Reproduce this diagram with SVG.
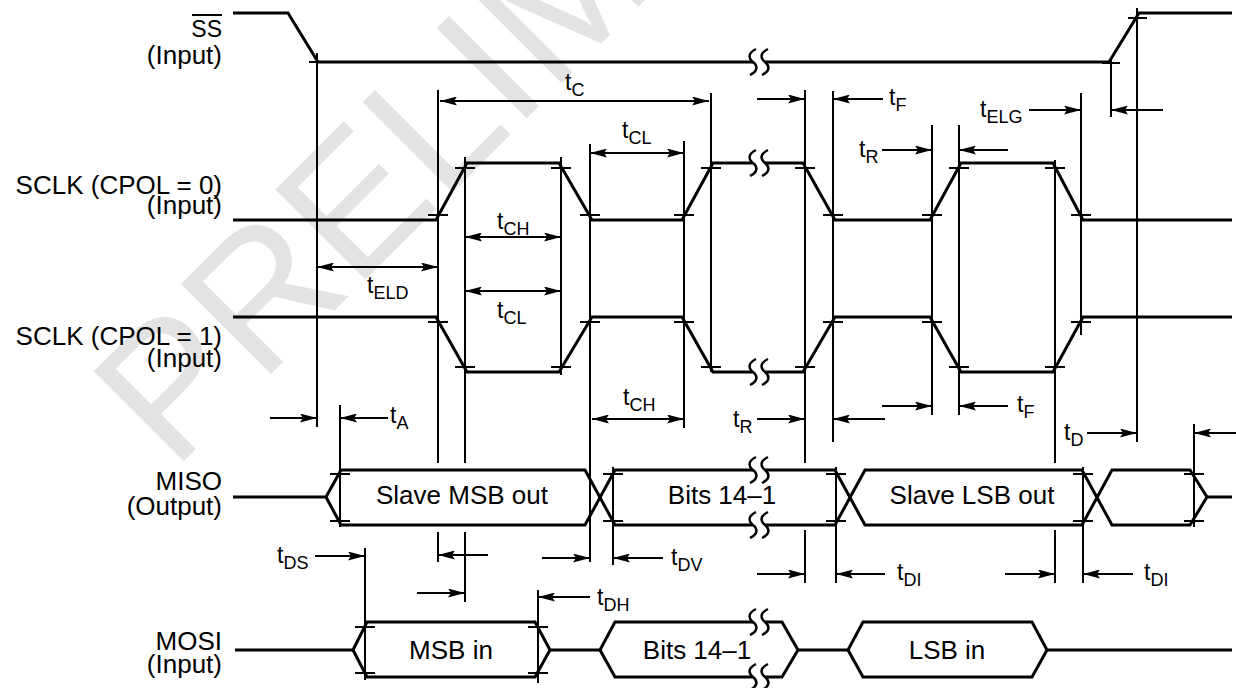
<svg xmlns="http://www.w3.org/2000/svg" xmlns:xlink="http://www.w3.org/1999/xlink" width="1236" height="688" viewBox="0 0 1236 688">
<style>
.s{stroke:#000;stroke-width:3;fill:none;stroke-linejoin:miter}
.v{stroke:#000;stroke-width:2;fill:none}
.k{stroke:#000;stroke-width:2;fill:none}
.d{stroke:#000;stroke-width:2;fill:none;marker-end:url(#ah)}
.dd{marker-start:url(#ah)}
.br{stroke:#000;stroke-width:2.5;fill:none}
.lbl{font-family:"Liberation Sans",Arial,Helvetica,sans-serif;font-size:26px;text-anchor:end;fill:#000}
.box{font-family:"Liberation Sans",Arial,Helvetica,sans-serif;font-size:26px;text-anchor:middle;fill:#000}
.t{font-family:"Liberation Sans",Arial,Helvetica,sans-serif;font-size:23px;fill:#000}
.sub{font-size:18px}
.wm{font-family:"Liberation Sans",Arial,Helvetica,sans-serif;font-size:185px;fill:#e3e3e3}
</style>
<defs>
<marker id="ah" viewBox="0 0 17 9" refX="17" refY="4.5" markerWidth="17" markerHeight="9" markerUnits="userSpaceOnUse" orient="auto-start-reverse">
<path d="M0,0 L17,4.5 L0,9 L3,4.5 z" fill="#000"/>
</marker>
<path id="brk" class="br" d="M3,-13 C-5,-9 -5,-4 0,0 C5,4 5,9 -3,13"/>
</defs>
<rect width="1236" height="688" fill="#fff"/>
<g id="watermark">
<text class="wm" transform="translate(173,472) rotate(-45)">PRELIMINARY</text>
</g>

<g id="labels">
<text class="lbl" x="222" y="37" style="font-size:23px">SS</text>
<line class="k" x1="192" y1="15" x2="222" y2="15"/>
<text class="lbl" x="222" y="64">(Input)</text>
<text class="lbl" x="222" y="194">SCLK (CPOL = 0)</text>
<text class="lbl" x="222" y="214">(Input)</text>
<text class="lbl" x="222" y="345">SCLK (CPOL = 1)</text>
<text class="lbl" x="222" y="367">(Input)</text>
<text class="lbl" x="222" y="490">MISO</text>
<text class="lbl" x="222" y="515">(Output)</text>
<text class="lbl" x="222" y="650">MOSI</text>
<text class="lbl" x="222" y="673">(Input)</text>
</g>

<g id="ss">
<path class="s" d="M233,13 H288 L318,62 H753 M765,62 H1109 L1139,13 H1232"/>
<path class="k" d="M309,62 h17 M1102,63 h18 M1128,18 h19"/>
<use xlink:href="#brk" x="753" y="62"/><use xlink:href="#brk" x="765" y="62"/>
</g>

<g id="sclk0">
<path class="s" d="M233,220 H436 L467,163 H559 L592,220 H682 L713,163 H753 M765,163 H803 L835,220 H930 L961,163 H1053 L1083,220 H1232"/>
<path class="k" d="M428,215 h20 M455,168 h20 M551,168 h20 M580,215 h20 M674,215 h20 M701,168 h20 M795,168 h20 M823,215 h20 M922,215 h20 M949,168 h20 M1045,168 h20 M1071,215 h20"/>
<use xlink:href="#brk" x="753" y="163"/><use xlink:href="#brk" x="765" y="163"/>
</g>

<g id="sclk1">
<path class="s" d="M233,317 H436 L467,372 H559 L592,317 H682 L713,372 H753 M765,372 H803 L835,317 H930 L961,372 H1053 L1083,317 H1232"/>
<path class="k" d="M428,322 h20 M455,367 h20 M551,367 h20 M580,322 h20 M674,322 h20 M701,367 h20 M795,367 h20 M823,322 h20 M922,322 h20 M949,367 h20 M1045,367 h20 M1071,322 h20"/>
<use xlink:href="#brk" x="753" y="372"/><use xlink:href="#brk" x="765" y="372"/>
</g>

<g id="miso">
<path class="s" d="M233,497 H326 L341,470 H585 L615,525 H753 M765,525 H835 L865,470 H1082 L1112,525 H1190 L1207,497 H1232"/>
<path class="s" d="M326,497 L341,525 H585 L615,470 H753 M765,470 H835 L865,525 H1082 L1112,470 H1190 L1207,497"/>
<path class="k" d="M330,474 h20 M330,521 h20 M603,474 h20 M603,521 h20 M826,474 h20 M826,521 h20 M1073,474 h20 M1073,521 h20 M1184,474 h20 M1184,521 h20"/>
<use xlink:href="#brk" x="753" y="470"/><use xlink:href="#brk" x="765" y="470"/>
<use xlink:href="#brk" x="753" y="525"/><use xlink:href="#brk" x="765" y="525"/>
<text class="box" x="462" y="504">Slave MSB out</text>
<text class="box" x="722" y="504">Bits 14–1</text>
<text class="box" x="972" y="504">Slave LSB out</text>
</g>

<g id="mosi">
<path class="s" d="M235,650 H353 L367,622 H535 L550,650 H600 L615,622 H753 M765,622 H782 L798,650 H848 L863,622 H1032 L1047,650 H1232"/>
<path class="s" d="M353,650 L367,677 H535 L550,650 M600,650 L615,677 H753 M765,677 H782 L798,650 M848,650 L863,677 H1032 L1047,650"/>
<path class="k" d="M355,627 h20 M355,673 h20 M528,627 h20 M528,673 h20"/>
<use xlink:href="#brk" x="753" y="622"/><use xlink:href="#brk" x="765" y="622"/>
<use xlink:href="#brk" x="753" y="677"/><use xlink:href="#brk" x="765" y="677"/>
<text class="box" x="451" y="659">MSB in</text>
<text class="box" x="697" y="659">Bits 14–1</text>
<text class="box" x="947" y="659">LSB in</text>
</g>

<g id="guides">
<path class="v" d="M317,53 V427 M340,405 V527 M438,90 V463 M438,532 V562 M465,157 V463 M465,532 V602 M561,157 V375 M590,144 V562 M684,141 V428 M711,93 V372 M805,90 V463 M805,530 V583 M833,91 V442 M932,125 V415 M959,125 V415 M1055,160 V463 M1055,530 V583 M1081,93 V335 M1111,60 V117 M1137,8 V442 M1194,424 V527 M613,467 V565 M836,467 V583 M1083,467 V583 M365,548 V680 M538,590 V683"/>
</g>

<g id="connectors">
<path class="d dd" d="M440,101 H709"/>
<path class="d" d="M757,99 H805"/>
<path class="d" d="M883,99 H833"/>
<path class="d" d="M1029,110 H1081"/>
<path class="d" d="M1163,110 H1111"/>
<path class="d dd" d="M590,153 H684"/>
<path class="d" d="M882,150 H932"/>
<path class="d" d="M1008,150 H959"/>
<path class="d dd" d="M465,237 H561"/>
<path class="d dd" d="M317,267 H438"/>
<path class="d dd" d="M465,291 H561"/>
<path class="d" d="M270,418 H317"/>
<path class="d" d="M388,418 H340"/>
<path class="d dd" d="M592,419 H684"/>
<path class="d" d="M757,419 H805"/>
<path class="d" d="M885,419 H833"/>
<path class="d" d="M882,406 H932"/>
<path class="d" d="M1008,406 H959"/>
<path class="d" d="M1087,433 H1137"/>
<path class="d" d="M1236,433 H1194"/>
<path class="d" d="M315,556 H365"/>
<path class="d" d="M488,555 H438"/>
<path class="d" d="M417,593 H465"/>
<path class="d" d="M542,558 H590"/>
<path class="d" d="M663,558 H613"/>
<path class="d" d="M590,597 H538"/>
<path class="d" d="M757,574 H805"/>
<path class="d" d="M885,574 H836"/>
<path class="d" d="M1005,574 H1055"/>
<path class="d" d="M1133,574 H1083"/>
</g>

<g id="timing-labels">
<text class="t" x="565" y="90">t<tspan class="sub" dy="6">C</tspan></text>
<text class="t" x="622" y="138">t<tspan class="sub" dy="6">CL</tspan></text>
<text class="t" x="497" y="229">t<tspan class="sub" dy="6">CH</tspan></text>
<text class="t" x="367" y="293">t<tspan class="sub" dy="6">ELD</tspan></text>
<text class="t" x="497" y="318">t<tspan class="sub" dy="6">CL</tspan></text>
<text class="t" x="390" y="423">t<tspan class="sub" dy="6">A</tspan></text>
<text class="t" x="623" y="405">t<tspan class="sub" dy="6">CH</tspan></text>
<text class="t" x="733" y="427">t<tspan class="sub" dy="6">R</tspan></text>
<text class="t" x="889" y="105">t<tspan class="sub" dy="6">F</tspan></text>
<text class="t" x="980" y="117">t<tspan class="sub" dy="6">ELG</tspan></text>
<text class="t" x="859" y="157">t<tspan class="sub" dy="6">R</tspan></text>
<text class="t" x="1017" y="412">t<tspan class="sub" dy="6">F</tspan></text>
<text class="t" x="1064" y="440">t<tspan class="sub" dy="6">D</tspan></text>
<text class="t" x="277" y="563">t<tspan class="sub" dy="6">DS</tspan></text>
<text class="t" x="671" y="565">t<tspan class="sub" dy="6">DV</tspan></text>
<text class="t" x="597" y="605">t<tspan class="sub" dy="6">DH</tspan></text>
<text class="t" x="897" y="580">t<tspan class="sub" dy="6">DI</tspan></text>
<text class="t" x="1144" y="580">t<tspan class="sub" dy="6">DI</tspan></text>
</g>
</svg>
